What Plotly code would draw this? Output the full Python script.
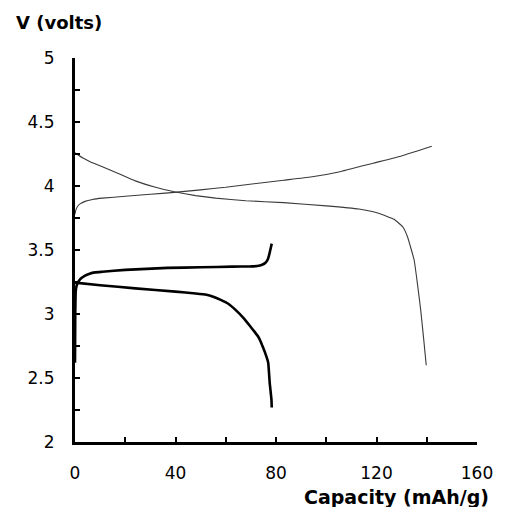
import plotly.graph_objects as go

# Thin curves (higher-voltage cell)
chg1_x = [0, 0.3, 1, 2, 4, 7, 10.9, 20, 30, 39.5, 50, 60, 68, 83, 93.8, 105, 119, 130, 142]
chg1_v = [3.78, 3.81, 3.84, 3.86, 3.88, 3.895, 3.905, 3.92, 3.935, 3.95, 3.97, 3.99, 4.01, 4.045, 4.07, 4.11, 4.18, 4.235, 4.31]
dis1_x = [0, 3, 6, 10.9, 17, 24, 32, 39.5, 48, 56, 68, 83, 100, 113, 120.8, 127, 130.5, 132.4, 135, 136.4, 137.6, 138.8, 139.8]
dis1_v = [4.26, 4.22, 4.19, 4.15, 4.10, 4.04, 3.99, 3.955, 3.925, 3.905, 3.885, 3.87, 3.845, 3.82, 3.787, 3.74, 3.68, 3.60, 3.42, 3.22, 3.03, 2.80, 2.60]

# Thick curves (lower-voltage cell)
chg2_x = [0, 0.1, 0.3, 0.8, 2, 4, 5.8, 8, 10.9, 20, 36.8, 50, 62.7, 70, 72.5, 74.5, 75.8, 76.8, 77.5, 78.3]
chg2_v = [2.62, 3.0, 3.18, 3.23, 3.27, 3.30, 3.315, 3.325, 3.33, 3.345, 3.36, 3.365, 3.37, 3.372, 3.375, 3.385, 3.40, 3.43, 3.48, 3.55]
dis2_x = [0, 10, 24, 40, 48, 52.3, 55, 58, 61, 64, 67, 69.5, 71.5, 73, 74, 74.8, 75.6, 76.9, 77.5, 78.2, 78.3]
dis2_v = [3.245, 3.225, 3.20, 3.175, 3.16, 3.15, 3.135, 3.11, 3.08, 3.03, 2.97, 2.91, 2.86, 2.82, 2.78, 2.74, 2.70, 2.62, 2.46, 2.33, 2.27]

x_ticks = [0, 40, 80, 120, 160]
y_ticks = [2, 2.5, 3, 3.5, 4, 4.5, 5]
y_tick_text = ["2", "2.5", "3", "3.5", "4", "4.5", "5"]

fig = go.Figure()
thin = dict(color="#3a3a3a", width=1.1)
thick = dict(color="black", width=2.6)
fig.add_trace(go.Scatter(x=chg1_x, y=chg1_v, mode="lines", line=dict(shape="spline", smoothing=0.3, **thin)))
fig.add_trace(go.Scatter(x=dis1_x, y=dis1_v, mode="lines", line=dict(shape="spline", smoothing=0.3, **thin)))
fig.add_trace(go.Scatter(x=chg2_x, y=chg2_v, mode="lines", line=dict(shape="spline", smoothing=0.3, **thick)))
fig.add_trace(go.Scatter(x=dis2_x, y=dis2_v, mode="lines", line=dict(shape="spline", smoothing=0.3, **thick)))

# page body has an 8px margin: figure is drawn from (8, 8); keep the page inside the window
OFF = 8
W, H = 497, 499
ML, MR, MT, MB = 67, 17, 50, 65
tickfont = dict(family="DejaVu Sans, sans-serif", size=17, color="black")
fig.update_layout(
    width=W, height=H,
    margin=dict(l=ML, r=MR, t=MT, b=MB),
    paper_bgcolor="white", plot_bgcolor="white",
    showlegend=False,
    xaxis=dict(range=[0, 160], tickmode="array", tickvals=x_ticks, ticktext=[str(v) for v in x_ticks],
               ticks="inside", ticklen=5, tickwidth=2, tickcolor="black",
               minor=dict(dtick=20, tick0=0, ticks="inside", ticklen=5, tickwidth=2, tickcolor="black"),
               showline=True, linewidth=3, linecolor="black", showgrid=False, zeroline=False,
               tickfont=tickfont, ticklabelstandoff=14),
    yaxis=dict(range=[2, 5], tickmode="array", tickvals=y_ticks, ticktext=y_tick_text,
               ticks="inside", ticklen=5, tickwidth=2, tickcolor="black",
               minor=dict(dtick=0.25, tick0=2, ticks="inside", ticklen=5, tickwidth=2, tickcolor="black"),
               showline=True, linewidth=3, linecolor="black", showgrid=False, zeroline=False,
               tickfont=tickfont, ticklabelstandoff=14),
)
pw, ph = W - ML - MR, H - MT - MB
def paper(px, py):
    # px, py are screen pixels in the 505x515 window
    return (px - OFF - ML) / pw, (H - (py - OFF) - MB) / ph

ax, ay = paper(12, 22)
bx, by = paper(502, 497)
fig.add_annotation(text="<b>V (volts)</b>", x=ax, y=ay, xref="paper", yref="paper", showarrow=False,
                   xanchor="left", yanchor="middle", font=dict(family="DejaVu Sans", size=18, color="black"))
fig.add_annotation(text="<b>Capacity (mAh/g)</b>", x=bx, y=by, xref="paper", yref="paper", showarrow=False,
                   xanchor="right", yanchor="middle", font=dict(family="DejaVu Sans", size=19, color="black"))

fig.write_html("out.html")
